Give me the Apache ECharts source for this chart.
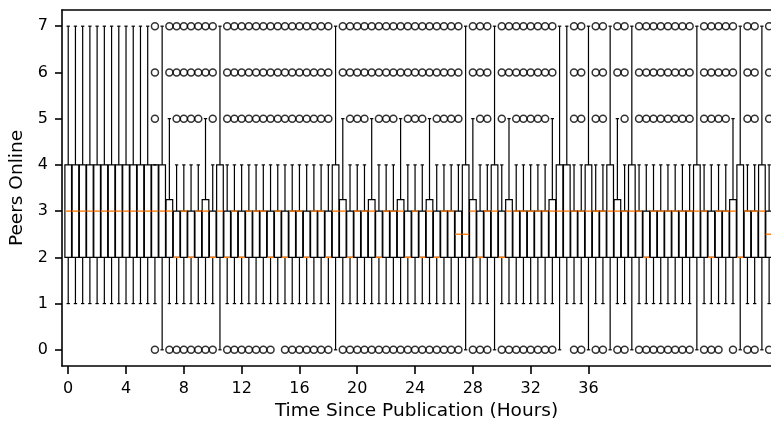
<!DOCTYPE html>
<html>
<head>
<meta charset="utf-8">
<script src="https://cdn.jsdelivr.net/npm/echarts@6/dist/echarts.min.js"></script>
<style>
html,body{margin:0;padding:0;background:#fff}
#chart{width:771px;height:424px}
</style>
</head>
<body>
<div id="chart"></div>
<script>
// one box every half hour, 0 .. 48.5
var hours = [0,0.5,1,1.5,2,2.5,3,3.5,4,4.5,5,5.5,6,6.5,7,7.5,8,8.5,9,9.5,
  10,10.5,11,11.5,12,12.5,13,13.5,14,14.5,15,15.5,16,16.5,17,17.5,18,18.5,19,19.5,
  20,20.5,21,21.5,22,22.5,23,23.5,24,24.5,25,25.5,26,26.5,27,27.5,28,28.5,29,29.5,
  30,30.5,31,31.5,32,32.5,33,33.5,34,34.5,35,35.5,36,36.5,37,37.5,38,38.5,39,39.5,
  40,40.5,41,41.5,42,42.5,43,43.5,44,44.5,45,45.5,46,46.5,47,47.5,48,48.5];

var whiskerLow = [1,1,1,1,1,1,1,1,1,1, 1,1,1,0,1,1,1,1,1,1, 1,0,1,1,1,1,1,1,1,1,
  1,1,1,1,1,1,1,0,1,1, 1,1,1,1,1,1,1,1,1,1, 1,1,1,1,1,0,1,1,1,0,
  1,1,1,1,1,1,1,1,0,1, 1,1,0,1,1,0,1,1,0,1, 1,1,1,1,1,1,1,0,1,1, 1,1,1,0,1,1,0,1];
var q1 = [2,2,2,2,2,2,2,2,2,2, 2,2,2,2,2,2,2,2,2,2, 2,2,2,2,2,2,2,2,2,2,
  2,2,2,2,2,2,2,2,2,2, 2,2,2,2,2,2,2,2,2,2, 2,2,2,2,2,2,2,2,2,2,
  2,2,2,2,2,2,2,2,2,2, 2,2,2,2,2,2,2,2,2,2, 2,2,2,2,2,2,2,2,2,2, 2,2,2,2,2,2,2,2];
var median = [3,3,3,3,3,3,3,3,3,3, 3,3,3,3,3,2,3,2,3,3, 2,3,2,3,2,3,3,3,2,3,
  2,3,3,2,3,3,2,3,3,2, 3,3,3,2,3,3,3,2,3,2, 3,2,3,3,2.5,2.5,3,2,3,3,
  2,3,3,3,3,3,3,3,3,3, 3,3,3,3,3,3,3,3,3,3, 2,3,3,3,3,3,3,3,3,2, 3,3,3,2,3,3,3,2.5];
var q3 = [4,4,4,4,4,4,4,4,4,4, 4,4,4,4,3.25,3,3,3,3,3.25, 3,4,3,3,3,3,3,3,3,3,
  3,3,3,3,3,3,3,4,3.25,3, 3,3,3.25,3,3,3,3.25,3,3,3, 3.25,3,3,3,3,4,3.25,3,3,4,
  3,3.25,3,3,3,3,3,3.25,4,4, 3,3,4,3,3,4,3.25,3,4,3, 3,3,3,3,3,3,3,4,3,3, 3,3,3.25,4,3,3,4,3];
var whiskerHigh = [7,7,7,7,7,7,7,7,7,7, 7,7,4,7,5,4,4,4,4,5, 4,7,4,4,4,4,4,4,4,4,
  4,4,4,4,4,4,4,7,5,4, 4,4,5,4,4,4,5,4,4,4, 5,4,4,4,4,7,5,4,4,7,
  4,5,4,4,4,4,4,5,7,7, 4,4,7,4,4,7,5,4,7,4, 4,4,4,4,4,4,4,7,4,4, 4,4,5,7,4,4,7,4];

// hours that have an outlier at 0, 5, 6 and 7 peers
var outliersAt0 = [6,7,7.5,8,8.5,9,9.5,10,11,11.5,12,12.5,13,13.5,14,15,15.5,16,16.5,17,17.5,18,
  19,19.5,20,20.5,21,21.5,22,22.5,23,23.5,24,24.5,25,25.5,26,26.5,27,28,28.5,29,
  30,30.5,31,31.5,32,32.5,33,33.5,35,35.5,36.5,37,38,38.5,39.5,40,40.5,41,41.5,42,42.5,43,
  44,44.5,45,46,47,47.5,48.5];
var outliersAt5 = [6,7.5,8,8.5,9,10,11,11.5,12,12.5,13,13.5,14,14.5,15,15.5,16,16.5,17,17.5,18,
  19.5,20,20.5,21.5,22,22.5,23.5,24,24.5,25.5,26,26.5,27,28.5,29,30,31,31.5,32,32.5,33,
  35,35.5,36.5,37,38.5,39.5,40,40.5,41,41.5,42,42.5,43,44,44.5,45,45.5,47,47.5,48.5];
var outliersAt6 = [6,7,7.5,8,8.5,9,9.5,10,11,11.5,12,12.5,13,13.5,14,14.5,15,15.5,16,16.5,17,17.5,18,
  19,19.5,20,20.5,21,21.5,22,22.5,23,23.5,24,24.5,25,25.5,26,26.5,27,28,28.5,29,
  30,30.5,31,31.5,32,32.5,33,33.5,35,35.5,36.5,37,38,38.5,39.5,40,40.5,41,41.5,42,42.5,43,
  44,44.5,45,45.5,46,47,47.5,48.5];
var outliersAt7 = outliersAt6.slice();

var xTicks = [0,4,8,12,16,20,24,28,32,36];
var yTicks = [0,1,2,3,4,5,6,7];

var BOX_W = 0.46;
var chart = echarts.init(document.getElementById('chart'));

var boxes = hours.map(function(h, i){
  return [h, whiskerLow[i], q1[i], median[i], q3[i], whiskerHigh[i]];
});
var fliers = [];
outliersAt0.forEach(function(h){ fliers.push([h, 0]); });
outliersAt5.forEach(function(h){ fliers.push([h, 5]); });
outliersAt6.forEach(function(h){ fliers.push([h, 6]); });
outliersAt7.forEach(function(h){ fliers.push([h, 7]); });

function renderBox(params, api) {
  var x = api.value(0);
  var cx = api.coord([x, 0])[0];
  var l = api.coord([x - BOX_W/2, 0])[0];
  var r = api.coord([x + BOX_W/2, 0])[0];
  var capL = api.coord([x - BOX_W/4, 0])[0];
  var capR = api.coord([x + BOX_W/4, 0])[0];
  var yLo = api.coord([x, api.value(1)])[1];
  var yQ1 = api.coord([x, api.value(2)])[1];
  var yMed = api.coord([x, api.value(3)])[1];
  var yQ3 = api.coord([x, api.value(4)])[1];
  var yHi = api.coord([x, api.value(5)])[1];
  var ln = {stroke: '#000', lineWidth: 1.2};
  return {
    type: 'group',
    children: [
      {type: 'line', shape: {x1: cx, y1: yQ1, x2: cx, y2: yLo}, style: ln},
      {type: 'line', shape: {x1: cx, y1: yQ3, x2: cx, y2: yHi}, style: ln},
      {type: 'line', shape: {x1: capL, y1: yLo, x2: capR, y2: yLo}, style: ln},
      {type: 'line', shape: {x1: capL, y1: yHi, x2: capR, y2: yHi}, style: ln},
      {type: 'rect', shape: {x: l, y: yQ3, width: r - l, height: yQ1 - yQ3},
        style: {fill: null, stroke: '#000', lineWidth: 1.2}},
      {type: 'line', shape: {x1: l, y1: yMed, x2: r, y2: yMed},
        style: {stroke: '#ff7f0e', lineWidth: 1.4}}
    ]
  };
}

var option = {
  animation: false,
  backgroundColor: '#fff',
  textStyle: {fontFamily: 'DejaVu Sans'},
  grid: {left: 62, top: 10, right: 0, bottom: 58, outerBoundsMode: 'none', containLabel: false},
  xAxis: [{
    type: 'value', min: -0.43, max: 48.63,
    name: 'Time Since Publication (Hours)', nameLocation: 'middle', nameGap: 36,
    nameTextStyle: {fontSize: 18.5, color: '#000', fontFamily: 'DejaVu Sans'},
    axisLine: {show: true, onZero: false, lineStyle: {color: '#000', width: 1.6}},
    axisTick: {show: true, length: 8, customValues: xTicks, lineStyle: {color: '#000', width: 1.6}},
    axisLabel: {customValues: xTicks, fontSize: 16, color: '#000', margin: 15},
    splitLine: {show: false}
  }, {
    type: 'value', position: 'top', min: -0.43, max: 48.63,
    axisLine: {show: true, onZero: false, lineStyle: {color: '#000', width: 1.6}},
    axisTick: {show: false}, axisLabel: {show: false}, splitLine: {show: false}
  }],
  yAxis: {
    type: 'value', min: -0.35, max: 7.35,
    name: 'Peers Online', nameLocation: 'middle', nameGap: 27,
    nameTextStyle: {fontSize: 18.5, color: '#000', fontFamily: 'DejaVu Sans'},
    axisLine: {show: true, onZero: false, lineStyle: {color: '#000', width: 1.6}},
    axisTick: {show: true, length: 7, customValues: yTicks, lineStyle: {color: '#000', width: 1.6}},
    axisLabel: {customValues: yTicks, fontSize: 16, color: '#000', margin: 14},
    splitLine: {show: false}
  },
  series: [{
    type: 'custom',
    renderItem: renderBox,
    data: boxes,
    encode: {x: 0, y: [1, 2, 3, 4, 5]},
    clip: true,
    z: 2
  }, {
    type: 'scatter',
    data: fliers,
    symbol: 'circle',
    symbolSize: 7,
    itemStyle: {color: 'rgba(0,0,0,0)', borderColor: '#000', borderWidth: 1.5},
    z: 3
  }]
};
chart.setOption(option);
</script>
</body>
</html>
